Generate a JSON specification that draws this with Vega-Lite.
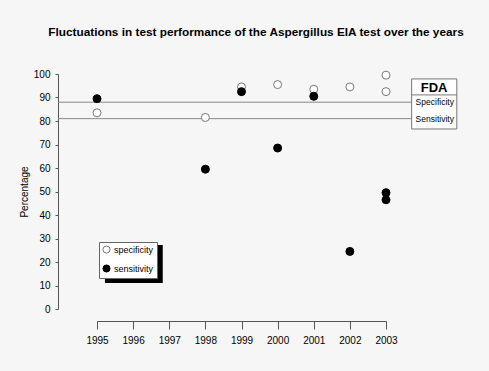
{
  "$schema": "https://vega.github.io/schema/vega-lite/v6.json",
  "width": 289,
  "height": 235,
  "autosize": "none",
  "padding": {"left": 97, "top": 74, "right": 103, "bottom": 62},
  "background": "#f6f6f6",
  "title": {"text": "Fluctuations in test performance of the Aspergillus EIA test over the years", "fontSize": 11.8, "fontWeight": "bold", "font": "Liberation Sans", "anchor": "middle", "dx": 14.5, "offset": 30, "color": "#000"},
  "resolve": {"axis": {"x": "independent", "y": "independent"}},
  "config": {
    "view": {"stroke": null},
    "font": "Liberation Sans",
    "axis": {"grid": false, "domainColor": "#555", "tickColor": "#555", "labelColor": "#000", "labelFontSize": 10, "titleColor": "#000", "titleFontWeight": "normal", "titleFontSize": 10, "labelFont": "Liberation Sans", "titleFont": "Liberation Sans", "labelFlush": false, "labelOverlap": false},
    "legend": {"orient": "none", "legendX": 2, "legendY": 168, "fillColor": "#ffffff", "strokeColor": "#666", "padding": 3, "labelFontSize": 9, "symbolSize": 50, "rowPadding": 6, "labelOffset": 3, "symbolStrokeWidth": 1, "labelColor": "#000", "labelFont": "Liberation Sans"}
  },
  "datasets": {
    "fda": [
      {"criterion": "Specificity", "value": 88},
      {"criterion": "Sensitivity", "value": 81}
    ],
    "results": [
      {"year": 1995, "measure": "specificity", "value": 83.5},
      {"year": 1995, "measure": "sensitivity", "value": 89.5},
      {"year": 1998, "measure": "specificity", "value": 81.5},
      {"year": 1998, "measure": "sensitivity", "value": 59.5},
      {"year": 1999, "measure": "specificity", "value": 94.5},
      {"year": 1999, "measure": "sensitivity", "value": 92.5},
      {"year": 2000, "measure": "specificity", "value": 95.5},
      {"year": 2000, "measure": "sensitivity", "value": 68.5},
      {"year": 2001, "measure": "specificity", "value": 93.5},
      {"year": 2001, "measure": "sensitivity", "value": 90.5},
      {"year": 2002, "measure": "specificity", "value": 94.5},
      {"year": 2002, "measure": "sensitivity", "value": 24.5},
      {"year": 2003, "measure": "specificity", "value": 99.5},
      {"year": 2003, "measure": "specificity", "value": 92.5},
      {"year": 2003, "measure": "sensitivity", "value": 49.5},
      {"year": 2003, "measure": "sensitivity", "value": 46.5}
    ]
  },
  "layer": [
    {
      "data": {"name": "fda"},
      "mark": {"type": "rule", "color": "#888", "strokeWidth": 1},
      "encoding": {
        "x": {"datum": 1993.92, "type": "quantitative", "scale": {"domain": [1995, 2003], "nice": false, "zero": false}, "axis": null},
        "x2": {"datum": 2003.71},
        "y": {"field": "value", "type": "quantitative", "scale": {"domain": [0, 100], "nice": false}, "axis": null}
      }
    },
    {
      "data": {"values": [{}]},
      "mark": {"type": "rect", "color": "#000"},
      "encoding": {
        "x": {"datum": 1995.22, "type": "quantitative", "scale": {"domain": [1995, 2003], "nice": false, "zero": false}, "axis": null},
        "x2": {"datum": 1996.82},
        "y": {"datum": 27.2, "type": "quantitative", "scale": {"domain": [0, 100], "nice": false}, "axis": null},
        "y2": {"datum": 11.1}
      }
    },
    {
      "data": {"values": [{}]},
      "mark": {"type": "rect", "fill": "#ffffff", "stroke": "#777", "strokeWidth": 1},
      "encoding": {
        "x": {"datum": 2003.71, "type": "quantitative", "scale": {"domain": [1995, 2003], "nice": false, "zero": false}, "axis": null},
        "x2": {"datum": 2004.96},
        "y": {"datum": 97.9, "type": "quantitative", "scale": {"domain": [0, 100], "nice": false}, "axis": null},
        "y2": {"datum": 76.6}
      }
    },
    {
      "data": {"values": [{}]},
      "mark": {"type": "rule", "color": "#777", "strokeWidth": 1},
      "encoding": {
        "x": {"datum": 2003.71, "type": "quantitative", "scale": {"domain": [1995, 2003], "nice": false, "zero": false}, "axis": null},
        "x2": {"datum": 2004.96},
        "y": {"datum": 91.1, "type": "quantitative", "scale": {"domain": [0, 100], "nice": false}, "axis": null}
      }
    },
    {
      "data": {"values": [{"label": "FDA"}]},
      "mark": {"type": "text", "fontSize": 13, "fontWeight": "bold", "align": "center", "baseline": "middle", "color": "#000"},
      "encoding": {
        "x": {"datum": 2004.33, "type": "quantitative", "scale": {"domain": [1995, 2003], "nice": false, "zero": false}, "axis": null},
        "y": {"datum": 94.0, "type": "quantitative", "scale": {"domain": [0, 100], "nice": false}, "axis": null},
        "text": {"field": "label"}
      }
    },
    {
      "data": {"name": "fda"},
      "mark": {"type": "text", "fontSize": 8.5, "align": "left", "baseline": "middle", "color": "#000"},
      "encoding": {
        "x": {"datum": 2003.82, "type": "quantitative", "scale": {"domain": [1995, 2003], "nice": false, "zero": false}, "axis": null},
        "y": {"field": "value", "type": "quantitative", "scale": {"domain": [0, 100], "nice": false}, "axis": null},
        "text": {"field": "criterion"}
      }
    },
    {
      "data": {"name": "results"},
      "mark": {"type": "point", "shape": "circle", "filled": true, "size": 64, "strokeWidth": 1, "opacity": 1},
      "encoding": {
        "x": {"field": "year", "type": "quantitative", "scale": {"domain": [1995, 2003], "nice": false, "zero": false},
              "axis": {"title": null, "offset": 12, "tickSize": 8, "values": [1995, 1996, 1997, 1998, 1999, 2000, 2001, 2002, 2003], "format": "d", "labelPadding": 6}},
        "y": {"field": "value", "type": "quantitative", "scale": {"domain": [0, 100], "nice": false},
              "axis": {"title": "Percentage", "offset": 39, "tickSize": 3, "values": [0, 10, 20, 30, 40, 50, 60, 70, 80, 90, 100], "labelPadding": 5, "titlePadding": 4}},
        "fill": {"field": "measure", "type": "nominal", "scale": {"domain": ["specificity", "sensitivity"], "range": ["#ffffff", "#000000"]}, "legend": {"title": null}},
        "stroke": {"field": "measure", "type": "nominal", "scale": {"domain": ["specificity", "sensitivity"], "range": ["#777777", "#000000"]}, "legend": {"title": null}}
      }
    }
  ]
}
